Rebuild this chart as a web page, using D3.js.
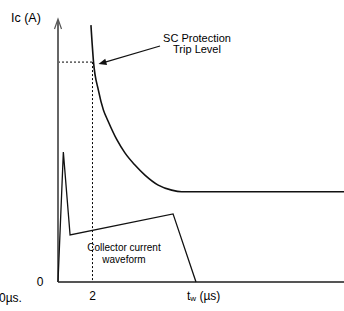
<!DOCTYPE html>
<html><head><meta charset="utf-8">
<script src="https://cdn.jsdelivr.net/npm/d3@7"></script>
<style>html,body{margin:0;padding:0;background:#fff}svg{display:block}text{font-family:"Liberation Sans",Arial,Helvetica,sans-serif;fill:#000}</style>
</head><body><div id="c"></div>
<script>
// Trip-level curve (t in µs, Ic in arbitrary units)
const tripT  = [1.91, 2.06, 2.34, 2.63, 2.90, 3.42, 3.88, 4.46, 5.04, 5.81, 6.59, 7.17, 16.6];
const tripIc = [97.3, 83.3, 72.7, 65.2, 61.0, 53.8, 48.9, 44.3, 40.5, 36.7, 34.8, 34.2, 34.2];
// Collector current waveform
const wfT  = [0, 0.31, 0.70, 6.67, 8.0];
const wfIc = [0, 49.2, 17.8, 25.8, 0];
// Marker at t = 2 µs
const markT = 2, markIc = 83.3;
const xTickLabels = ["2"];
const xTickValues = [2];

const W = 344, H = 311;
const svg = d3.select("#c").append("svg").attr("width", W).attr("height", H);
const x = d3.scaleLinear().domain([0, 16.58]).range([58, 344]);
const y = d3.scaleLinear().domain([0, 100]).range([282, 18]);

// dotted guides
svg.append("line").attr("x1", x(0)).attr("x2", x(markT)).attr("y1", y(markIc)).attr("y2", y(markIc))
  .attr("stroke", "#000").attr("stroke-width", 1).attr("stroke-dasharray", "2,2");
svg.append("line").attr("x1", x(markT)).attr("x2", x(markT)).attr("y1", y(markIc)).attr("y2", y(0))
  .attr("stroke", "#000").attr("stroke-width", 1).attr("stroke-dasharray", "2,2");

// axes
svg.append("line").attr("x1", x(0)).attr("x2", 344).attr("y1", y(0)).attr("y2", y(0))
  .attr("stroke", "#555").attr("stroke-width", 2);
svg.append("line").attr("x1", x(0)).attr("x2", x(0)).attr("y1", y(0)).attr("y2", 20)
  .attr("stroke", "#666").attr("stroke-width", 2);
svg.append("path").attr("d", `M${x(0)-3.5},${29} L${x(0)},${19} L${x(0)+3.5},${29}`)
  .attr("fill", "none").attr("stroke", "#555").attr("stroke-width", 1.2);

// trip curve
const trip = tripT.map((t, i) => [t, tripIc[i]]);
svg.append("path").datum(trip)
  .attr("d", d3.line().x(d => x(d[0])).y(d => y(d[1])).curve(d3.curveMonotoneX))
  .attr("fill", "none").attr("stroke", "#111").attr("stroke-width", 1.6);

// waveform
const wf = wfT.map((t, i) => [t, wfIc[i]]);
svg.append("path").datum(wf)
  .attr("d", d3.line().x(d => x(d[0])).y(d => y(d[1])))
  .attr("fill", "none").attr("stroke", "#111").attr("stroke-width", 1.3);

// arrow annotation
const ax1 = 160, ay1 = 46, ax2 = x(markT) + 6, ay2 = y(markIc) + 2;
svg.append("line").attr("x1", ax1).attr("y1", ay1).attr("x2", ax2 + 5).attr("y2", ay2 - 1.5)
  .attr("stroke", "#111").attr("stroke-width", 1.2);
{
  const ang = Math.atan2(ay2 - ay1, ax2 - ax1);
  const L = 8, w = 3.2;
  const bx = ax2 - L * Math.cos(ang), by = ay2 - L * Math.sin(ang);
  const px = -Math.sin(ang) * w, py = Math.cos(ang) * w;
  svg.append("path").attr("d", `M${ax2},${ay2} L${bx + px},${by + py} L${bx - px},${by - py} Z`).attr("fill", "#111");
}

// texts
svg.append("text").attr("x", 11).attr("y", 22).attr("font-size", 12.5).text("Ic (A)");
svg.append("text").attr("x", 197).attr("y", 42).attr("font-size", 11).attr("text-anchor", "middle").text("SC Protection");
svg.append("text").attr("x", 197).attr("y", 53).attr("font-size", 11).attr("text-anchor", "middle").text("Trip Level");
svg.append("text").attr("x", 124).attr("y", 251).attr("font-size", 10).attr("text-anchor", "middle").text("Collector current");
svg.append("text").attr("x", 124).attr("y", 263).attr("font-size", 10).attr("text-anchor", "middle").text("waveform");
svg.append("text").attr("x", 40).attr("y", 286).attr("font-size", 12).attr("text-anchor", "middle").text("0");
svg.append("text").attr("x", -1).attr("y", 302).attr("font-size", 12).text("0µs.");
svg.selectAll("text.xt").data(xTickValues).enter().append("text").attr("class", "xt")
  .attr("x", d => x(d)).attr("y", 300).attr("font-size", 12).attr("text-anchor", "middle")
  .text((d, i) => xTickLabels[i]);
const tw = svg.append("text").attr("x", 187).attr("y", 300).attr("font-size", 12);
tw.append("tspan").text("t");
tw.append("tspan").attr("font-size", 8).attr("dy", 1).text("w");
tw.append("tspan").attr("dy", -1).text(" (µs)");
</script></body></html>
